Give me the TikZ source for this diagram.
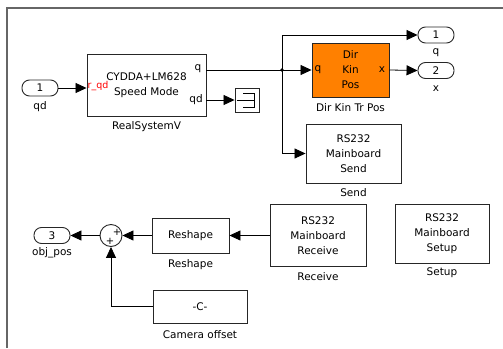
\documentclass[tikz,border=0pt]{standalone}
\usepackage{fontspec}
\setmainfont{DejaVu Sans}
\usetikzlibrary{arrows.meta}
\definecolor{simorange}{RGB}{255,128,0}
\tikzset{
  blk/.style={draw=black!85, line width=0.9pt, fill=white, inner sep=0pt, align=center},
  port/.style={draw=black!85, line width=0.9pt, rounded corners=7.5pt, minimum width=36pt, minimum height=16pt, inner sep=0pt},
  sig/.style={line width=0.8pt, -{Triangle[length=11pt,width=10pt]}},
  wire/.style={line width=0.8pt},
  plus/.style={font=\fontsize{10}{10}\selectfont, inner sep=0pt}
}
\begin{document}
\begin{tikzpicture}[x=1pt,y=-1pt,font=\fontsize{10.5}{15}\selectfont]
\useasboundingbox (0,0) rectangle (503,348);
\draw[black!60, line width=1.2pt] (7,348) -- (7,8) -- (503,8);

\node[port] (inqd) at (40,88) {1};
\node (lblqd) at (40,107) {qd};
\node[blk, minimum width=119pt, minimum height=62pt] (real) at (146.5,85) {CYDDA+LM628\\Speed Mode};
\node[text=red, font=\fontsize{9.5}{10}\selectfont, inner sep=0pt] (rqd) at (98,86) {r\_qd};
\node[inner sep=0pt] (pq) at (198,69) {q};
\node[inner sep=0pt] (pqd) at (196,100) {qd};
\node (lblreal) at (146.5,127) {RealSystemV};

\node[blk, minimum width=24pt, minimum height=24pt] (term) at (247,100) {};
\draw[wire] (243,93) -- (254,93) -- (254,107) -- (243,107);
\draw[wire] (237,100) -- (254,100);

\coordinate (jq) at (282,70);
\fill (jq) circle (1.8pt);
\node[blk, fill=simorange, minimum width=77pt, minimum height=54pt] (dkin) at (350.5,70) {Dir\\Kin\\Pos};
\node[inner sep=0pt] (pdq) at (318,70) {q};
\node[inner sep=0pt] (pdx) at (382,70) {x};
\node (lbldkin) at (350.5,108) {Dir Kin Tr Pos};

\node[port] (outq) at (436,35) {1};
\node (lblq) at (436,53) {q};
\node[port] (outx) at (436,70.5) {2};
\node (lblx) at (436,89) {x};

\node[blk, minimum width=95pt, minimum height=59pt] (send) at (353.5,153.5) {RS232\\Mainboard\\Send};
\node (lblsend) at (353.5,193) {Send};
\node[blk, minimum width=96pt, minimum height=62pt] (receive) at (318,235.5) {RS232\\Mainboard\\Receive};
\node (lblreceive) at (318,277) {Receive};
\node[blk, minimum width=94pt, minimum height=59pt] (setup) at (442,233.5) {RS232\\Mainboard\\Setup};
\node (lblsetup) at (442,273) {Setup};

\node[blk, minimum width=77pt, minimum height=35pt] (reshape) at (190.5,235.5) {Reshape};
\node (lblreshape) at (190.5,265) {Reshape};
\node[blk, minimum width=94pt, minimum height=33pt] (const) at (200,306.5) {-C-};
\node (lblconst) at (200,335) {Camera offset};
\node[draw=black!85, line width=0.9pt, circle, minimum size=22pt, inner sep=0pt] (sum) at (111,235.5) {};
\node[plus] (s1) at (117,232) {+};
\node[plus] (s2) at (110,241) {+};
\node[port] (outobj) at (52,235.5) {3};
\node (lblobj) at (52,253) {obj\_pos};

\draw[sig] (inqd.east) -- (inqd.east -| real.west);
\draw[wire] (real.east |- jq) -- (jq);
\draw[sig] (jq) -- (dkin.west);
\draw[sig] (jq) |- (outq.west);
\draw[sig] (jq) |- (send.west);
\draw[sig] (dkin.east) -- (outx.west);
\draw[sig] (real.east |- term) -- (term.west);
\draw[sig] (receive.west) -- (reshape.east);
\draw[sig] (reshape.west) -- (sum.east);
\draw[sig] (sum.west) -- (outobj.east);
\draw[sig] (const.west) -| (sum.south);
\end{tikzpicture}
\end{document}
